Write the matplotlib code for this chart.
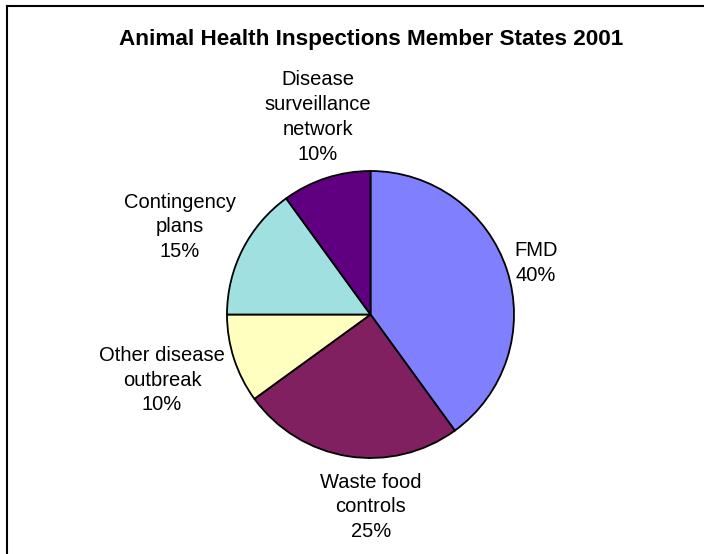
import matplotlib
matplotlib.use("Agg")
import matplotlib.pyplot as plt
from matplotlib.lines import Line2D

plt.rcParams['font.family'] = ['Liberation Sans', 'DejaVu Sans']

title = "Animal Health Inspections Member States 2001"
categories = ["FMD", "Waste food\ncontrols", "Other disease\noutbreak",
              "Contingency\nplans", "Disease\nsurveillance\nnetwork"]
values = [40, 25, 10, 15, 10]
colors = ["#8080FF", "#802060", "#FFFFC0", "#A0E0E0", "#600080"]

# label centres in pixel coordinates (x from left, y from top)
label_pos = [(536, 263), (371, 507), (162, 380), (180, 227), (318, 117)]

W, H = 704, 554
fig = plt.figure(figsize=(W / 100, H / 100), dpi=100)
fig.patch.set_facecolor("white")

cx, cy, R = 370.5, 314.5, 143.5
ax = fig.add_axes([(cx - R) / W, (H - cy - R) / H, 2 * R / W, 2 * R / H])
wedges, texts = ax.pie(values, colors=colors, startangle=90, counterclock=False,
                       radius=1, labels=[f"{c}\n{v}%" for c, v in zip(categories, values)],
                       wedgeprops=dict(edgecolor="black", linewidth=1.3),
                       textprops=dict(fontsize=14.5, color="black"))
ax.set_xlim(-1, 1)
ax.set_ylim(-1, 1)
ax.set_aspect("equal")
ax.axis("off")

for t, (px, py) in zip(texts, label_pos):
    t.set_transform(fig.transFigure)
    t.set_position((px / W, (H - py) / H))
    t.set_ha("center")
    t.set_va("center")
    t.set_multialignment("center")
    t.set_linespacing(1.38)
    t.set_clip_on(False)

fig.text(371 / W, (H - 40) / H, title, ha="center", va="center",
         fontsize=16.2, fontweight="bold")

# chart border (only top and left edges visible in the image)
fig.add_artist(Line2D([7 / W, 1.0], [(H - 5.5) / H, (H - 5.5) / H],
                      transform=fig.transFigure, color="black", linewidth=1.5))
fig.add_artist(Line2D([7 / W, 7 / W], [0, (H - 5.5) / H],
                      transform=fig.transFigure, color="black", linewidth=1.5))

fig.savefig("out.png", dpi=100, facecolor="white")
